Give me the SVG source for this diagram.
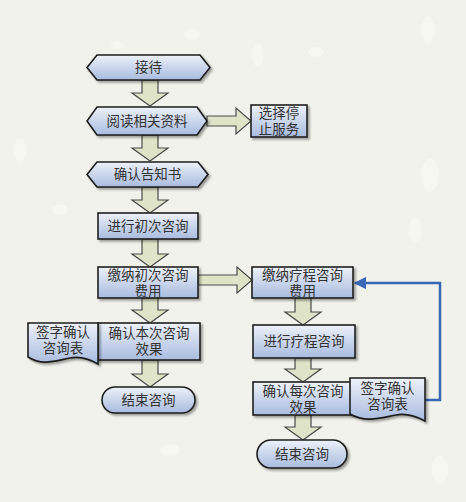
<svg xmlns="http://www.w3.org/2000/svg" width="466" height="502" viewBox="0 0 466 502">
<defs>
<linearGradient id="g" x1="0" y1="0" x2="0" y2="1">
<stop offset="0" stop-color="#eef2f9"/>
<stop offset="0.5" stop-color="#cad6ec"/>
<stop offset="1" stop-color="#a9bbdf"/>
</linearGradient>
<filter id="sh" x="-10%" y="-10%" width="130%" height="140%">
<feDropShadow dx="2" dy="2" stdDeviation="1.2" flood-color="#000" flood-opacity="0.35"/>
</filter>
<marker id="ah" viewBox="0 0 10 10" refX="9" refY="5" markerWidth="5" markerHeight="5" orient="auto">
<path d="M0,0 L10,5 L0,10 z" fill="#3a66b8"/>
</marker>
<style>
.n{fill:url(#g);stroke:#1e1e1e;stroke-width:1.6;filter:url(#sh)}
.a{fill:#dfe3c8;stroke:#4a4a4a;stroke-width:1.2}
.t{font-family:"Liberation Sans","Noto Sans CJK SC",sans-serif;font-size:13.5px;fill:#333;text-anchor:middle;dominant-baseline:central}
.d{fill:#fafaf6;opacity:0.6}
</style>
</defs>
<rect width="466" height="502" fill="#f2f2ec"/>
<g id="drops">
<ellipse class="d" cx="192" cy="34" rx="8" ry="5"/>
<ellipse class="d" cx="118" cy="45" rx="7" ry="4"/>
<ellipse class="d" cx="258" cy="55" rx="6" ry="12"/>
<ellipse class="d" cx="316" cy="52" rx="8" ry="5"/>
<ellipse class="d" cx="428" cy="30" rx="7" ry="14"/>
<ellipse class="d" cx="430" cy="175" rx="9" ry="16"/>
<ellipse class="d" cx="415" cy="230" rx="7" ry="12"/>
<ellipse class="d" cx="20" cy="150" rx="6" ry="12"/>
<ellipse class="d" cx="60" cy="210" rx="8" ry="5"/>
<ellipse class="d" cx="440" cy="470" rx="8" ry="14"/>
<ellipse class="d" cx="170" cy="450" rx="10" ry="6"/>
</g>
<g id="connectors">
<path class="a" d="M142,80 H158 V93 H168 L150,106 L132,93 H142 Z"/>
<path class="a" d="M142,135 H158 V148 H168 L150,161 L132,148 H142 Z"/>
<path class="a" d="M142,187 H158 V200 H168 L150,213 L132,200 H142 Z"/>
<path class="a" d="M142,239 H158 V254 H168 L150,267 L132,254 H142 Z"/>
<path class="a" d="M142,298 H158 V310 H168 L150,323 L132,310 H142 Z"/>
<path class="a" d="M142,360 H158 V374 H168 L150,387 L132,374 H142 Z"/>
<path class="a" d="M295,298 H311 V312 H321 L303,325 L285,312 H295 Z"/>
<path class="a" d="M295,358 H311 V369 H321 L303,382 L285,369 H295 Z"/>
<path class="a" d="M295,415 H311 V427 H321 L303,440 L285,427 H295 Z"/>
<path class="a" d="M207,116 H236 V108 L251,121 L236,134 V126 H207 Z"/>
<path class="a" d="M198,275 H237 V267 L252,280 L237,293 V285 H198 Z"/>
<path d="M425,400 H440 V283 H355" fill="none" stroke="#3a66b8" stroke-width="2.5" marker-end="url(#ah)"/>
</g>
<g id="n1"><path class="n" d="M97,55 H200 L210,67.5 L200,80 H97 L87,67.5 Z"/><text class="t" x="148.5" y="67.5">接待</text></g>
<g id="n2"><path class="n" d="M97,107 H197 L207,121 L197,135 H97 L87,121 Z"/><text class="t" x="147" y="121">阅读相关资料</text></g>
<g id="n3"><rect class="n" x="251" y="105" width="56" height="32"/><text class="t"><tspan x="279" y="113">选择停</tspan><tspan x="279" y="129">止服务</tspan></text></g>
<g id="n4"><path class="n" d="M97,162 H198 L208,174.5 L198,187 H97 L87,174.5 Z"/><text class="t" x="147.5" y="174.5">确认告知书</text></g>
<g id="n5"><rect class="n" x="98" y="213" width="100" height="26"/><text class="t" x="148" y="226">进行初次咨询</text></g>
<g id="n6"><rect class="n" x="98" y="267" width="100" height="31"/><text class="t"><tspan x="148" y="274.5">缴纳初次咨询</tspan><tspan x="148" y="290.5">费用</tspan></text></g>
<g id="n7"><rect class="n" x="252" y="267" width="101" height="31"/><text class="t"><tspan x="302.5" y="274.5">缴纳疗程咨询</tspan><tspan x="302.5" y="290.5">费用</tspan></text></g>
<g id="n8"><rect class="n" x="98" y="323" width="102" height="37"/><text class="t"><tspan x="149" y="333">确认本次咨询</tspan><tspan x="149" y="349">效果</tspan></text></g>
<g id="n9"><path class="n" d="M28,323 H98 V364 C88,358 80,356 70,358 C55,361 42,366 28,357 Z"/><text class="t"><tspan x="63" y="332">签字确认</tspan><tspan x="63" y="348">咨询表</tspan></text></g>
<g id="n10"><rect class="n" x="102" y="387" width="93" height="26" rx="13"/><text class="t" x="148.5" y="400">结束咨询</text></g>
<g id="n11"><rect class="n" x="253" y="325" width="102" height="33"/><text class="t" x="304" y="341.5">进行疗程咨询</text></g>
<g id="n12"><rect class="n" x="253" y="382" width="100" height="33"/><text class="t"><tspan x="303" y="390.5">确认每次咨询</tspan><tspan x="303" y="406.5">效果</tspan></text></g>
<g id="n13"><path class="n" d="M350,378 H425 V421 C414,415 406,413 396,415 C380,418 366,423 350,414 Z"/><text class="t"><tspan x="387.5" y="388">签字确认</tspan><tspan x="387.5" y="404">咨询表</tspan></text></g>
<g id="n14"><rect class="n" x="257" y="440" width="90" height="28" rx="14"/><text class="t" x="302" y="454">结束咨询</text></g>
</svg>
